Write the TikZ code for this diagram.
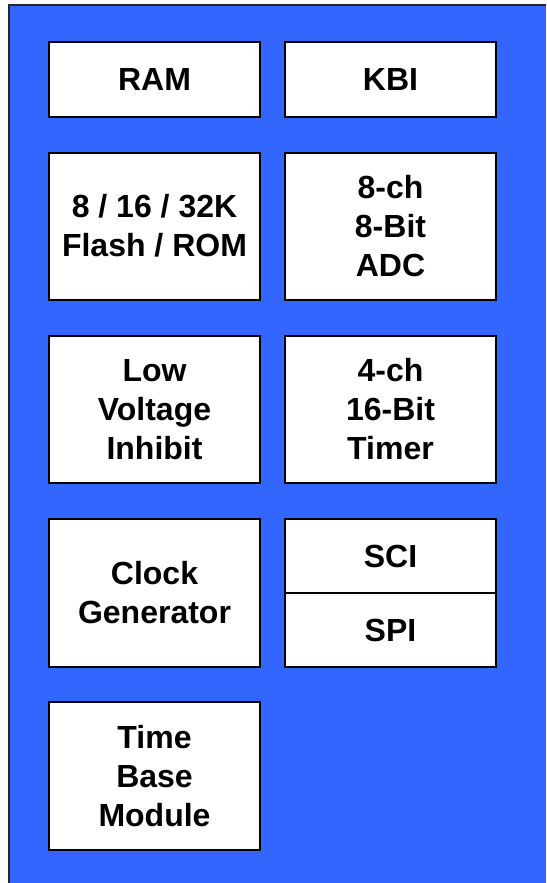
\documentclass[tikz,border=0pt]{standalone}
\usepackage{fontspec}
\setmainfont{Liberation Sans}
\definecolor{bgblue}{RGB}{51,102,255}
\begin{document}
\begin{tikzpicture}[x=1pt,y=-1pt,
  blk/.style={draw=black, line width=2pt, fill=white, minimum width=211pt,
    inner sep=0pt, align=center, font=\bfseries\fontsize{32}{39}\selectfont}]
\useasboundingbox (0,0) rectangle (546,883);
\fill[bgblue] (9,5) rectangle (546,883);
\draw[line width=1.8pt, draw=black!85] (9,883) -- (9,5) -- (546,5);
% left column
\node[blk, minimum height=75pt] (ram) at (154.5,79.5) {RAM};
\node[blk, minimum height=147pt] (flash) at (154.5,226) {8 / 16 / 32K\\Flash / ROM};
\node[blk, minimum height=147pt] (lvi) at (154.5,409.5) {Low\\Voltage\\Inhibit};
\node[blk, minimum height=148pt] (clk) at (154.5,592.5) {Clock\\Generator};
\node[blk, minimum height=148pt] (tbm) at (154.5,776) {Time\\Base\\Module};
% right column
\node[blk, minimum height=75pt] (kbi) at (390.5,79.5) {KBI};
\node[blk, minimum height=147pt] (adc) at (390.5,226) {8-ch\\8-Bit\\ADC};
\node[blk, minimum height=147pt] (tim) at (390.5,409.5) {4-ch\\16-Bit\\Timer};
\node[blk, minimum height=74pt] (sci) at (390.5,556) {SCI};
\node[blk, minimum height=74pt] (spi) at (390.5,630) {SPI};
\end{tikzpicture}
\end{document}
